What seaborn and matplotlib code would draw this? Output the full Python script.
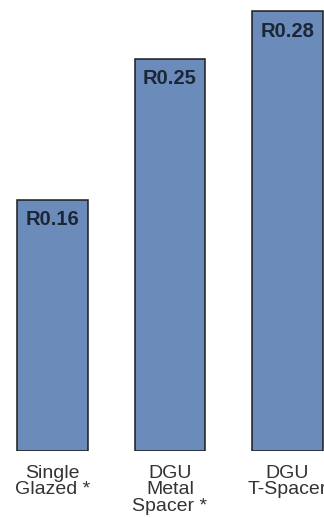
import matplotlib
matplotlib.use("Agg")
import matplotlib.pyplot as plt
import seaborn as sns
import pandas as pd

categories = ["Single\nGlazed *", "DGU\nMetal\nSpacer *", "DGU\nT-Spacer"]
r_values = [0.16, 0.25, 0.28]
value_labels = ["R0.16", "R0.25", "R0.28"]

df = pd.DataFrame({"glazing": categories, "r": r_values})

sns.set_style("white")
plt.rcParams["font.family"] = ["Liberation Sans", "DejaVu Sans"]

fig = plt.figure(figsize=(3.24, 5.18), dpi=100)
ax = fig.add_axes([0, 67 / 518, 1, 451 / 518])

sns.barplot(data=df, x="glazing", y="r", color="#6b8cba", saturation=1,
            width=0.6, edgecolor="#1c1c1c", linewidth=1.1, ax=ax)

ax.set_xlim(-0.447, 2.311)
ax.set_ylim(0, 0.2873)

for i, (v, lab) in enumerate(zip(r_values, value_labels)):
    ax.annotate(lab, (i, v), xytext=(0, -7.5), textcoords="offset points",
                ha="center", va="top", fontsize=14.5, fontweight="bold",
                color="#1b2636")

ax.set_xlabel("")
ax.set_ylabel("")
ax.set_yticks([])
ax.tick_params(axis="x", length=0, pad=10)
for t in ax.get_xticklabels():
    t.set_fontsize(14)
    t.set_color("#333333")
    t.set_linespacing(0.95)
    t.set_verticalalignment("top")
sns.despine(ax=ax, left=True, bottom=True)

fig.savefig("out.png", dpi=100)
